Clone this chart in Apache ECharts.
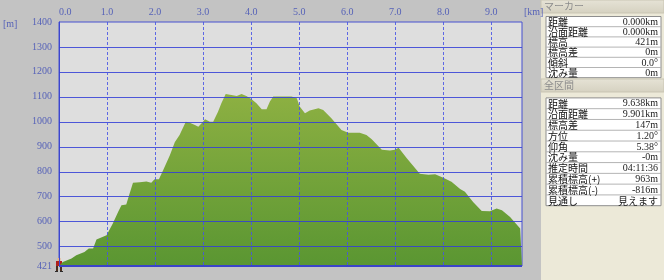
<!DOCTYPE html>
<html>
<head>
<meta charset="utf-8">
<script src="https://cdn.jsdelivr.net/npm/echarts@6/dist/echarts.min.js"></script>
<style>
html,body{margin:0;padding:0;background:#c3c3c3;}
#c{width:664px;height:280px;}
</style>
</head>
<body>
<div id="c"></div>
<script>
// ---- data ----
const km = [0, 0.08, 0.26, 0.36, 0.53, 0.62, 0.71, 0.78, 0.99, 1.12,
  1.23, 1.30, 1.40, 1.47, 1.54, 1.68, 1.82, 1.92, 1.99, 2.08,
  2.17, 2.31, 2.41, 2.51, 2.64, 2.72, 2.83, 2.90, 2.97, 3.04,
  3.14, 3.21, 3.31, 3.38, 3.47, 3.59, 3.70, 3.80, 3.90, 4.01,
  4.11, 4.22, 4.32, 4.39, 4.46, 4.56, 4.70, 4.84, 4.95, 5.01,
  5.12, 5.22, 5.40, 5.50, 5.67, 5.88, 6.02, 6.26, 6.40, 6.51,
  6.72, 6.89, 6.99, 7.07, 7.24, 7.51, 7.69, 7.83, 8.00, 8.17,
  8.35, 8.45, 8.62, 8.80, 8.97, 9.11, 9.22, 9.39, 9.60, 9.638];
const elev = [421, 437, 451, 464, 477, 491, 491, 527, 544, 592,
  638, 665, 668, 712, 755, 757, 760, 755, 769, 769,
  806, 866, 918, 947, 1000, 996, 987, 980, 994, 1010,
  1000, 1000, 1040, 1074, 1111, 1107, 1103, 1111, 1103, 1090,
  1074, 1050, 1050, 1081, 1101, 1101, 1101, 1101, 1094, 1061,
  1034, 1045, 1054, 1047, 1014, 967, 956, 956, 947, 930,
  887, 884, 887, 895, 853, 791, 787, 789, 775, 759,
  730, 719, 678, 642, 641, 652, 645, 618, 571, 564];
const xTicks = [0, 1, 2, 3, 4, 5, 6, 7, 8, 9];
const xGrid = [1, 2, 3, 4, 5, 6, 7, 8, 9];
const xMax = 9.638;
const yTicks = [421, 500, 600, 700, 800, 900, 1000, 1100, 1200, 1300, 1400];
const yGrid = [500, 600, 700, 800, 900, 1000, 1100, 1200, 1300];
const yMin = 421, yMax = 1400;
const markerTitle = 'マーカー';
const markerLabels = ['距離', '沿面距離', '標高', '標高差', '傾斜', '沈み量'];
const markerValues = ['0.000km', '0.000km', '421m', '0m', '0.0°', '0m'];
const totalTitle = '全区間';
const totalLabels = ['距離', '沿面距離', '標高差', '方位', '仰角', '沈み量', '推定時間', '累積標高(+)', '累積標高(-)', '見通し'];
const totalValues = ['9.638km', '9.901km', '147m', '1.20°', '5.38°', '-0m', '04:11:36', '963m', '-816m', '見えます'];

// ---- style ----
const axisColor = '#5662b8';
const hGridColor = 'rgba(50,62,215,0.85)';
const vGridColor = 'rgba(70,82,230,0.85)';
const jp = '"Noto Sans CJK JP", sans-serif';
const serif = '"Liberation Serif", "DejaVu Serif", serif';

const chart = echarts.init(document.getElementById('c'), null, {renderer: 'canvas'});

function panel() {
  const g = [];
  const px = 541, pw = 123;
  g.push({type: 'rect', shape: {x: px, y: 0, width: pw, height: 280}, style: {fill: '#ece9d8'}, z: 0});
  function header(y, text) {
    g.push({type: 'rect', shape: {x: px, y: y, width: pw, height: 13},
      style: {fill: new echarts.graphic.LinearGradient(0, 0, 0, 1, [{offset: 0, color: '#e6e3d6'}, {offset: 1, color: '#d5d1c0'}]),
        stroke: '#c9c5b3', lineWidth: 1}, z: 1});
    g.push({type: 'text', x: px + 3, y: y + 6.5,
      style: {text: text, fill: '#8c8c8c', font: '10px ' + jp, verticalAlign: 'middle'}, z: 2});
  }
  function table(y0, pitch, labels, values) {
    const tx = 546, tw = 115, h = pitch * labels.length;
    g.push({type: 'rect', shape: {x: tx, y: y0, width: tw, height: h},
      style: {fill: '#ffffff', stroke: '#8e8e8e', lineWidth: 1}, z: 1});
    labels.forEach((lab, i) => {
      const cy = y0 + pitch * i + pitch / 2;
      if (i > 0) {
        g.push({type: 'line', shape: {x1: tx, y1: y0 + pitch * i, x2: tx + tw, y2: y0 + pitch * i},
          style: {stroke: '#b4b4b4', lineWidth: 1}, z: 2});
      }
      g.push({type: 'text', x: tx + 2, y: cy + 0.5,
        style: {text: lab, fill: '#111', font: '10px ' + jp, verticalAlign: 'middle'}, z: 3});
      const isJp = /[\u3040-\u30ff\u4e00-\u9fff]/.test(values[i]);
      g.push({type: 'text', x: tx + tw - 3, y: cy + 0.5,
        style: {text: values[i], fill: '#222', font: isJp ? '10px ' + jp : '10px ' + serif,
          align: 'right', verticalAlign: 'middle'}, z: 3});
    });
  }
  header(0, markerTitle);
  table(16.5, 10.2, markerLabels, markerValues);
  header(79, totalTitle);
  table(97.9, 10.78, totalLabels, totalValues);
  g.push({type: 'text', x: 3, y: 24, style: {text: '[m]', fill: axisColor, font: '10px ' + serif, verticalAlign: 'middle'}, z: 5});
  g.push({type: 'text', x: 524, y: 12, style: {text: '[km]', fill: axisColor, font: '10px ' + serif, verticalAlign: 'middle'}, z: 5});
  return g;
}

const option = {
  animation: false,
  backgroundColor: '#c3c3c3',
  grid: {left: 59, top: 22, right: 142, bottom: 14, show: true, backgroundColor: '#dedede', borderColor: '#4650d0', borderWidth: 1},
  xAxis: {
    type: 'value', min: 0, max: xMax, position: 'top',
    axisLine: {show: false}, axisTick: {show: false}, splitLine: {show: false},
    axisLabel: {customValues: xTicks, formatter: v => v.toFixed(1), color: axisColor, fontSize: 10, fontFamily: serif, margin: 5, alignMinLabel: 'left'}
  },
  yAxis: {
    type: 'value', min: yMin, max: yMax,
    axisLine: {show: true, lineStyle: {color: '#3c46d0', width: 1}}, axisTick: {show: false}, splitLine: {show: false},
    axisLabel: {customValues: yTicks, formatter: v => String(v), color: axisColor, fontSize: 10, fontFamily: serif, margin: 7}
  },
  series: [{
    type: 'line',
    data: km.map((k, i) => [k, elev[i]]),
    showSymbol: false,
    color: '#7aa83c',
    lineStyle: {width: 0},
    areaStyle: {origin: 'start', opacity: 1,
      color: new echarts.graphic.LinearGradient(0, 0, 0, 1, [{offset: 0, color: '#8db042'}, {offset: 1, color: '#5a9632'}])}
  }]
};
chart.setOption(option);

// grid lines over the profile, placed through the chart's own scales
const toPx = (x, y) => chart.convertToPixel({gridIndex: 0}, [x, y]);
const pMinMin = toPx(0, yMin), pMaxMax = toPx(xMax, yMax);
const gx0 = pMinMin[0], gx1 = pMaxMax[0], gyB = pMinMin[1], gyT = pMaxMax[1];
const gridLines = [];
yGrid.forEach(v => {
  const y = Math.round(toPx(0, v)[1]) + 0.5;
  gridLines.push({type: 'line', silent: true, z: 100, shape: {x1: gx0, y1: y, x2: gx1, y2: y},
    style: {stroke: hGridColor, lineWidth: 1}});
});
xGrid.forEach(v => {
  const x = Math.round(toPx(v, yMin)[0]) + 0.5;
  gridLines.push({type: 'line', silent: true, z: 100, shape: {x1: x, y1: gyT, x2: x, y2: gyB},
    style: {stroke: vGridColor, lineWidth: 1, lineDash: [3, 2]}});
});
gridLines.push({type: 'line', silent: true, z: 101, shape: {x1: gx0, y1: gyB, x2: gx1, y2: gyB},
  style: {stroke: '#3a44c8', lineWidth: 2}});

// hiker marker at the start point
const p = toPx(km[0], elev[0]);
const hiker = {type: 'group', x: p[0], y: p[1], z: 110, children: [
  {type: 'rect', shape: {x: -1.5, y: -8, width: 3, height: 3}, style: {fill: '#e8b080'}},
  {type: 'rect', shape: {x: -3, y: -5, width: 6, height: 5}, style: {fill: '#b0201c'}},
  {type: 'rect', shape: {x: -3, y: 0, width: 2, height: 5}, style: {fill: '#4a3020'}},
  {type: 'rect', shape: {x: 1, y: 0, width: 2, height: 5}, style: {fill: '#4a3020'}},
  {type: 'rect', shape: {x: -4, y: 5, width: 3, height: 1}, style: {fill: '#2a2a2a'}},
  {type: 'rect', shape: {x: 1, y: 5, width: 3, height: 1}, style: {fill: '#2a2a2a'}}
]};
chart.setOption({graphic: panel().concat(gridLines, [hiker])});
</script>
</body>
</html>
